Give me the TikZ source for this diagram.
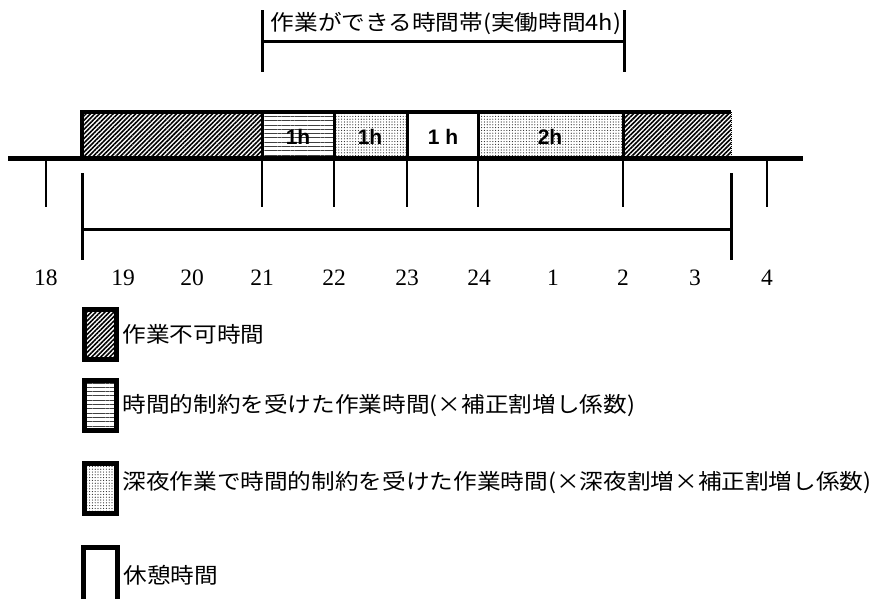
\documentclass[tikz,border=0pt]{standalone}
\usepackage{fontspec}
\setmainfont{Liberation Serif}
\newfontfamily\jpfont[FakeStretch=1.1]{Noto Sans CJK JP}
\newfontfamily\hfont{Liberation Sans}
\usetikzlibrary{positioning, patterns.meta}

\begin{document}
\begin{tikzpicture}[x=1pt, y=-1pt, thick,
    jp/.style={font=\jpfont\fontsize{21.5}{24}\selectfont, inner sep=0pt},
    num/.style={font=\fontsize{23.5}{26}\selectfont},
    hours/.style={font=\hfont\bfseries\fontsize{21}{24}\selectfont},
    tick/.style={line width=2.5pt},
    bracket/.style={line width=3pt},
    legbox/.style={draw, line width=5pt, minimum width=32pt,
        minimum height=50pt, inner sep=0pt},
    nogo/.style={pattern={Lines[angle=45, distance=3.2pt, line width=1.6pt]}},
    limited/.style={pattern={Lines[angle=0, distance=4.3pt, line width=0.9pt]},
        pattern color=black!75},
    night/.style={pattern={Dots[distance=2.8pt, radius=0.6pt]},
        pattern color=black!85}
]
    \useasboundingbox (0,0) rectangle (878,598);

    % the bar
    \fill [nogo] (82,112) rectangle (262,158);
    \fill [limited] (262,112) rectangle (334,158);
    \fill [night] (334,112) rectangle (407,158);
    \fill [night] (478,112) rectangle (623,158);
    \fill [nogo] (623,112) rectangle (731,158);

    \draw [line width=4pt] (82,158) -- (82,112) -- (731,112);
    \foreach \x in {262,334,407,478,623}
        \draw [line width=3pt] (\x,112) -- (\x,158);
    \draw [line width=1pt, densely dotted] (731,112) -- (731,158);

    \node [hours] (h1) at (298,137) {1h};
    \node [hours] (h2) at (370,137) {1h};
    \node [hours] (h3) at (443,137) {1 h};
    \node [hours] (h4) at (550,137) {2h};

    % time axis
    \draw [line width=5pt] (8,158) -- (803,158);
    \foreach \x in {46,262,334,407,478,623,767}
        \draw [tick] (\x,158) -- (\x,207);

    \foreach \x/\t in {46/18,123/19,192/20,262/21,334/22,407/23,
                       479/24,553/1,623/2,695/3,767/4}
        \node [num] (t\t) at (\x,278) {\t};

    % work band
    \node [jp] (band) at (446,24) {作業ができる時間帯(実働時間4h)};
    \draw [bracket] (262,10) -- (262,72);
    \draw [bracket] (624,10) -- (624,72);
    \draw [bracket] (262,41) -- (624,41);

    \draw [bracket] (82,173) -- (82,260);
    \draw [bracket] (731,173) -- (731,260);
    \draw [bracket] (82,229) -- (731,229);

    % legend
    \node [legbox, nogo] (key1) at (100.5,334.5) {};
    \node [jp, right=3pt of key1] (txt1) {作業不可時間};

    \node [legbox, limited] (key2) at (100.5,405.5) {};
    \node [jp, right=3pt of key2] (txt2)
        {時間的制約を受けた作業時間(×補正割増し係数)};

    \node [legbox, night] (key3) at (100.5,488.5) {};
    \node [jp, right=3pt of key3, yshift=6pt] (txt3)
        {深夜作業で時間的制約を受けた作業時間(×深夜割増×補正割増し係数)};

    \draw [line width=5pt] (83.5,600) |- (117.5,547.5) -- (117.5,600);
    \node [jp, anchor=west] (txt4) at (123,575) {休憩時間};
\end{tikzpicture}
\end{document}
